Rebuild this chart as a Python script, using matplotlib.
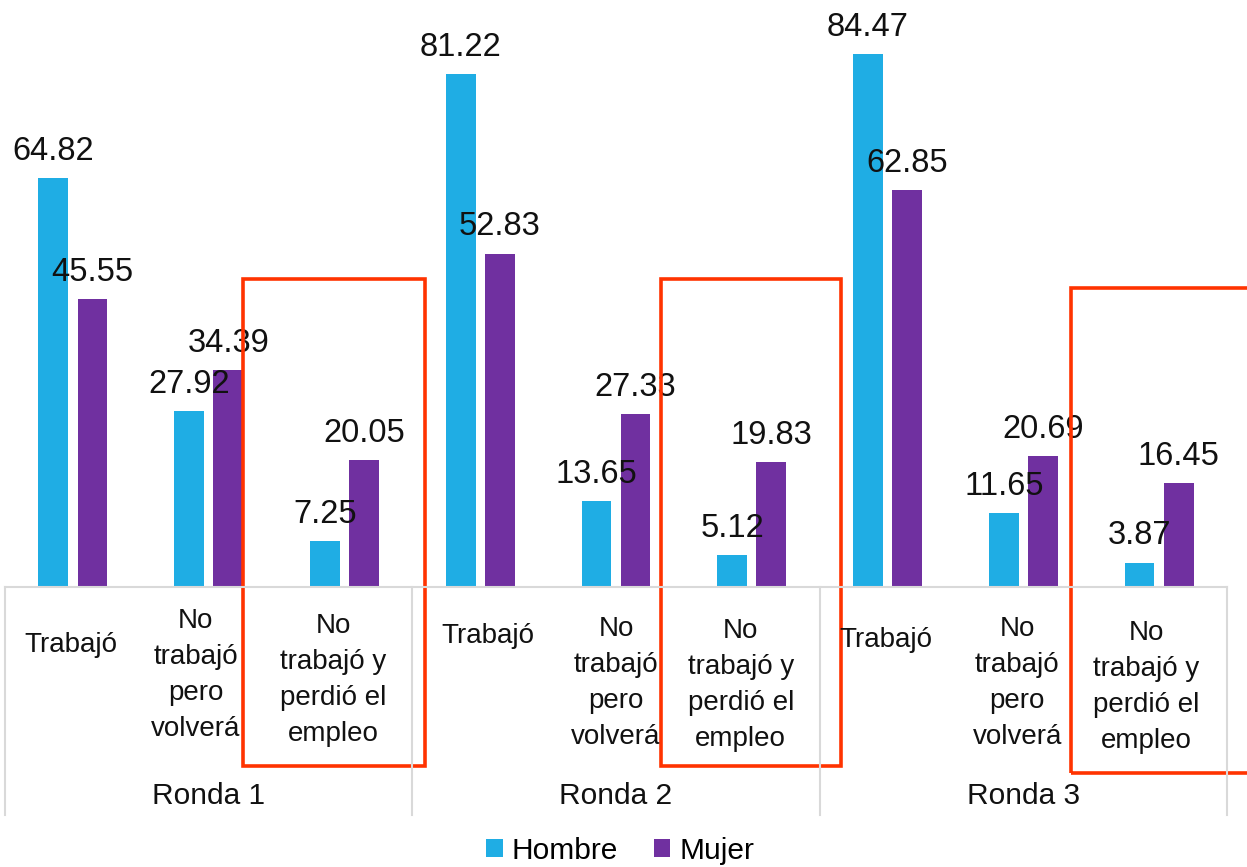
import matplotlib
matplotlib.use("Agg")
import matplotlib.pyplot as plt
from matplotlib.patches import Rectangle
from matplotlib.lines import Line2D
import numpy as np

plt.rcParams['font.family'] = ['Liberation Sans', 'DejaVu Sans']

rondas = ["Ronda 1", "Ronda 2", "Ronda 3"]
categorias = ["Trabajó", "No\ntrabajó\npero\nvolverá", "No\ntrabajó y\nperdió el\nempleo"]
hombre = [64.82, 27.92, 7.25, 81.22, 13.65, 5.12, 84.47, 11.65, 3.87]
mujer = [45.55, 34.39, 20.05, 52.83, 27.33, 19.83, 62.85, 20.69, 16.45]
series = ["Hombre", "Mujer"]
colors = ["#1FADE4", "#7030A0"]

W, H = 1247, 867
fig = plt.figure(figsize=(W / 100, H / 100), dpi=100)
ax_left, ax_right, ax_bottom_px = 5, 1227, 587
ax = fig.add_axes([ax_left / W, (H - ax_bottom_px) / H, (ax_right - ax_left) / W, ax_bottom_px / H])

n = len(hombre)
x = np.arange(n) + 0.5
bw = 0.22
off = 0.144
b1 = ax.bar(x - off, hombre, bw, color=colors[0], label=series[0])
b2 = ax.bar(x + off, mujer, bw, color=colors[1], label=series[1])
ax.set_xlim(0, n)
ax.set_ylim(0, 93)
for bars, vals in ((b1, hombre), (b2, mujer)):
    for rect, v in zip(bars, vals):
        ax.annotate(f"{v:.2f}", (rect.get_x() + rect.get_width() / 2, v),
                    xytext=(0, 8), textcoords="offset points",
                    ha="center", va="bottom", fontsize=23.5, color="#111111")

for s in ax.spines.values():
    s.set_visible(False)
ax.set_xticks([])
ax.set_yticks([])

def fy(py):
    return (H - py) / H

def fx(px):
    return px / W

gray = "#D9D9D9"
fig.add_artist(Line2D([fx(ax_left), fx(ax_right)], [fy(587), fy(587)], color=gray, lw=1.5))
step = (ax_right - ax_left) / 3
for i in range(4):
    xp = ax_left + i * step
    fig.add_artist(Line2D([fx(xp), fx(xp)], [fy(587), fy(815)], color=gray, lw=1.5))

cat_w = (ax_right - ax_left) / n
label_y = [645, 675, 680, 636, 683, 685, 640, 683, 687]
label_dx = [-2, -13, -11, 8, 0, -11, -2, -6, -13]
for i in range(n):
    cx = ax_left + (i + 0.5) * cat_w + label_dx[i]
    fig.text(fx(cx), fy(label_y[i]), categorias[i % 3], ha="center", va="center",
             fontsize=20, linespacing=1.5, color="#111111")
for r, name in enumerate(rondas):
    cx = ax_left + (r + 0.5) * step
    fig.text(fx(cx), fy(796), name, ha="center", va="center", fontsize=21.5, color="#111111")

red = "#FF3300"
for (x0, y0, x1, y1) in [(243, 279, 425, 766), (661, 279, 841, 766), (1071, 288, 1260, 773)]:
    fig.add_artist(Rectangle((fx(x0), fy(y1)), fx(x1 - x0), (y1 - y0) / H,
                             fill=False, edgecolor=red, lw=2.6))

leg = fig.legend(handles=[b1, b2], labels=series, loc="center", bbox_to_anchor=(fx(620), fy(851)),
                 ncol=2, frameon=False, fontsize=21.5, handlelength=0.55, handleheight=0.55,
                 handletextpad=0.3, columnspacing=1.2)

fig.savefig("out.png", dpi=100)
